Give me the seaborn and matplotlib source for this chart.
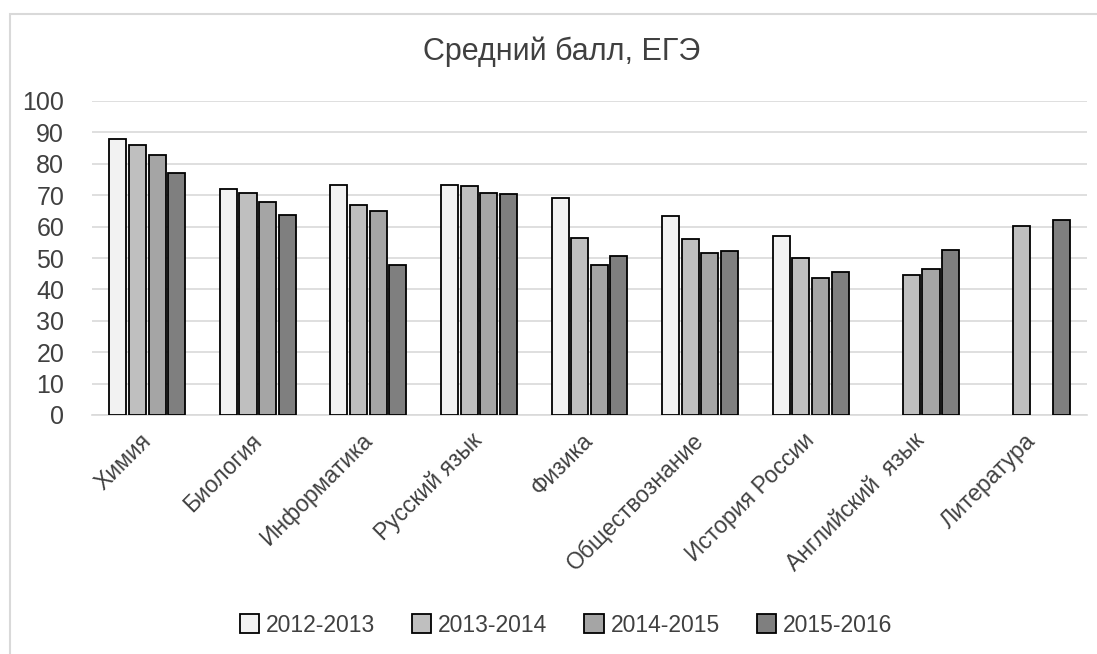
import numpy as np
import pandas as pd
import matplotlib
matplotlib.use("Agg")
import matplotlib.pyplot as plt
from matplotlib.patches import Rectangle
import seaborn as sns

subjects = ["Химия", "Биология", "Информатика", "Русский язык", "Физика",
            "Обществознание", "История России", "Английский  язык", "Литература"]
years = ["2012-2013", "2013-2014", "2014-2015", "2015-2016"]
s2012_2013 = [88, 72, 73.3, 73.4, 69, 63.5, 57, np.nan, np.nan]
s2013_2014 = [86, 70.6, 67, 73, 56.5, 56, 50, 44.7, 60.3]
s2014_2015 = [82.8, 67.8, 65, 70.6, 47.8, 51.7, 43.6, 46.5, np.nan]
s2015_2016 = [77, 63.7, 47.8, 70.4, 50.7, 52.3, 45.5, 52.4, 62]
colors = ["#f2f2f2", "#bfbfbf", "#a5a5a5", "#7f7f7f"]

series = [s2012_2013, s2013_2014, s2014_2015, s2015_2016]
rows = []
for yr, vals in zip(years, series):
    for subj, v in zip(subjects, vals):
        rows.append({"subject": subj, "year": yr, "score": v})
df = pd.DataFrame(rows).dropna()

sns.set_style("white")
plt.rcParams["font.family"] = ["Liberation Sans", "DejaVu Sans"]
txt = "#404040"

fig = plt.figure(figsize=(10.97, 6.54), dpi=100)
ax = fig.add_axes([92 / 1097, 1 - 415 / 654, 995 / 1097, 314 / 654])

sns.barplot(data=df, x="subject", y="score", hue="year", order=subjects,
            hue_order=years, palette=colors, edgecolor="black", linewidth=1.3,
            width=0.71, gap=0.13, errorbar=None, ax=ax, zorder=3)

ax.set_ylim(0, 100)
ax.set_xlim(-0.5, 8.5)
ax.set_yticks(np.arange(0, 101, 10))
ax.yaxis.grid(True, color="#d9d9d9", linewidth=1.2, zorder=0)
ax.set_axisbelow(True)
for sp in ["top", "right", "left"]:
    ax.spines[sp].set_visible(False)
ax.spines["bottom"].set_color("#d9d9d9")
ax.spines["bottom"].set_linewidth(1.2)
ax.set_xlabel("")
ax.set_ylabel("")
ax.tick_params(axis="both", length=0, colors=txt)
ax.tick_params(axis="y", labelsize=18, pad=20)
ax.tick_params(axis="x", labelsize=16.5, pad=16)
for lab in ax.get_xticklabels():
    lab.set_rotation(45)
    lab.set_ha("right")
    lab.set_va("center")
    lab.set_rotation_mode("anchor")

handles, labels = ax.get_legend_handles_labels()
if ax.get_legend() is not None:
    ax.get_legend().remove()
leg = fig.legend(handles, labels, loc="center", ncol=4,
                 bbox_to_anchor=(566 / 1097, 1 - 625 / 654), frameon=False,
                 fontsize=16.5, handlelength=0.85, handleheight=0.85,
                 handletextpad=0.3, columnspacing=1.6)
for t in leg.get_texts():
    t.set_color(txt)

fig.text(562 / 1097, 1 - 52 / 654, "Средний балл, ЕГЭ", ha="center",
         va="center", fontsize=22, color=txt)

fig.add_artist(Rectangle((10 / 1097, -0.05), 1.1, 1 - 14 / 654 + 0.05,
                         transform=fig.transFigure, fill=False,
                         edgecolor="#d9d9d9", linewidth=1.5))

fig.savefig("out.png", dpi=100, facecolor="white")
